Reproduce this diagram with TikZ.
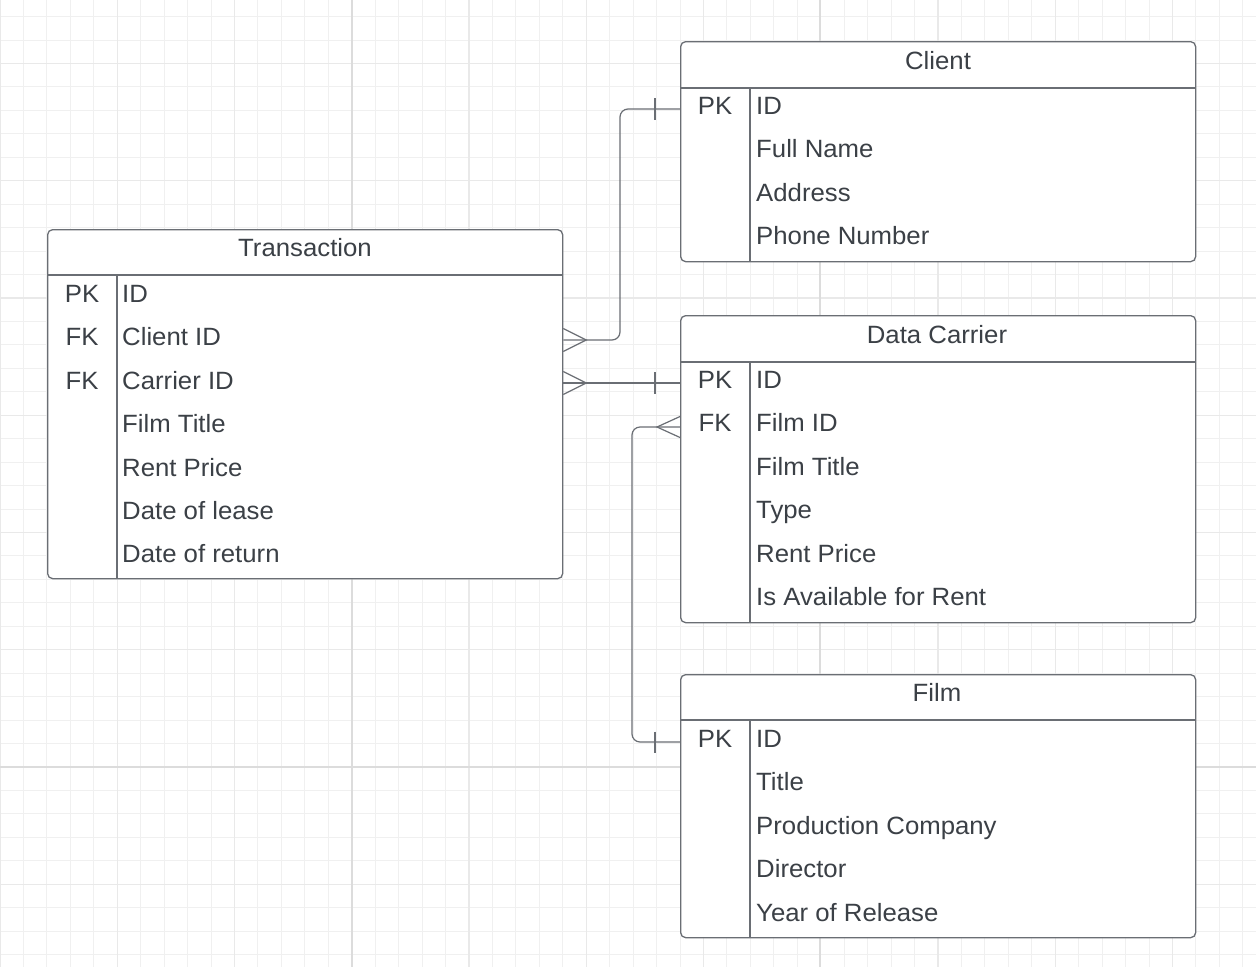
\documentclass[tikz,border=0pt]{standalone}
\usepackage{fontspec}
\setmainfont{Liberation Sans}[FakeStretch=1.03]
\definecolor{txt}{HTML}{3B4046}
\definecolor{bdr}{HTML}{6A6E74}
\definecolor{gminor}{HTML}{F0F0F0}
\definecolor{gmid}{HTML}{E9E9E9}
\definecolor{gmaj}{HTML}{DCDCDC}
\begin{document}
\begin{tikzpicture}[x=1pt,y=-1pt,
  tbl/.style={draw=bdr, line width=1.3pt, fill=white, rounded corners=5pt, minimum width=515pt, anchor=north west, inner sep=0pt},
  lbl/.style={text=txt, font=\fontsize{25}{30}\selectfont, inner sep=0pt},
  keytxt/.style={lbl, anchor=base},
  fld/.style={lbl, anchor=base west},
  ttl/.style={lbl, anchor=base},
  conn/.style={draw=bdr, line width=1.2pt},
  sepline/.style={draw=bdr, line width=1.2pt}]
\useasboundingbox[fill=white] (0,0) rectangle (1256,967);
% grid
\foreach \i in {0,...,53} \draw[gminor, line width=1pt] ({\i*23.45},0) -- ({\i*23.45},967);
\foreach \k in {-8,...,32} \draw[gminor, line width=1pt] (0,{767-\k*23.45}) -- (1256,{767-\k*23.45});
\foreach \i in {0,...,10} \draw[gmid, line width=1.2pt] ({\i*117.25},0) -- ({\i*117.25},967);
\foreach \k in {0,...,7} \draw[gmid, line width=1.2pt] (0,{63.5+\k*117.25}) -- (1256,{63.5+\k*117.25});
\foreach \x in {352,820} \draw[gmaj, line width=1.6pt] (\x,0) -- (\x,967);
\foreach \y in {767} \draw[gmaj, line width=1.6pt] (0,\y) -- (1256,\y);

% Transaction
\node[tbl, minimum height=349pt] (trans) at (47,229) {};
\draw[sepline] (trans.west |- 0,275) -- (trans.east |- 0,275);
\draw[sepline] (117,275) -- (117,578);
\node[ttl] (trans-t) at (305,256.5) {Transaction};
\node[keytxt] (trans-k1) at (82,302.5) {PK};
\node[keytxt] (trans-k2) at (82,345.9) {FK};
\node[keytxt] (trans-k3) at (82,389.3) {FK};
\node[fld] (trans-f1) at (122,302.5) {ID};
\node[fld] (trans-f2) at (122,345.9) {Client ID};
\node[fld] (trans-f3) at (122,389.3) {Carrier ID};
\node[fld] (trans-f4) at (122,432.7) {Film Title};
\node[fld] (trans-f5) at (122,476.1) {Rent Price};
\node[fld] (trans-f6) at (122,519.5) {Date of lease};
\node[fld] (trans-f7) at (122,562.9) {Date of return};

% Client
\node[tbl, minimum height=220pt] (client) at (680,41) {};
\draw[sepline] (client.west |- 0,88) -- (client.east |- 0,88);
\draw[sepline] (750,88) -- (750,261);
\node[ttl] (client-t) at (938,69.5) {Client};
\node[keytxt] (client-k1) at (715,114.5) {PK};
\node[fld] (client-f1) at (756,114.5) {ID};
\node[fld] (client-f2) at (756,157.9) {Full Name};
\node[fld] (client-f3) at (756,201.3) {Address};
\node[fld] (client-f4) at (756,244.7) {Phone Number};

% Data Carrier
\node[tbl, minimum height=307pt] (carrier) at (680,315) {};
\draw[sepline] (carrier.west |- 0,362) -- (carrier.east |- 0,362);
\draw[sepline] (750,362) -- (750,622);
\node[ttl] (carrier-t) at (937,343.5) {Data Carrier};
\node[keytxt] (carrier-k1) at (715,388.5) {PK};
\node[keytxt] (carrier-k2) at (715,431.9) {FK};
\node[fld] (carrier-f1) at (756,388.5) {ID};
\node[fld] (carrier-f2) at (756,431.9) {Film ID};
\node[fld] (carrier-f3) at (756,475.3) {Film Title};
\node[fld] (carrier-f4) at (756,518.7) {Type};
\node[fld] (carrier-f5) at (756,562.1) {Rent Price};
\node[fld] (carrier-f6) at (756,605.5) {Is Available for Rent};

% Film
\node[tbl, minimum height=263pt] (film) at (680,674) {};
\draw[sepline] (film.west |- 0,720) -- (film.east |- 0,720);
\draw[sepline] (750,720) -- (750,937);
\node[ttl] (film-t) at (937,701.5) {Film};
\node[keytxt] (film-k1) at (715,747.5) {PK};
\node[fld] (film-f1) at (756,747.5) {ID};
\node[fld] (film-f2) at (756,790.9) {Title};
\node[fld] (film-f3) at (756,834.3) {Production Company};
\node[fld] (film-f4) at (756,877.7) {Director};
\node[fld] (film-f5) at (756,921.1) {Year of Release};

% connectors
\coordinate (a1) at (trans.east |- 0,340);
\coordinate (b1) at (client.west |- 0,109);
\draw[conn, rounded corners=8pt] (a1) -| (620,109) -- (b1);
\draw[conn] (a1) ++(0,-11.5) -- ++(23,11.5) -- ++(-23,11.5);
\draw[conn] (b1) ++(-25,-11) -- ++(0,22);

\coordinate (a2) at (trans.east |- 0,383);
\coordinate (b2) at (carrier.west |- 0,383);
\draw[conn] (a2) -- (b2);
\draw[conn] (a2) ++(0,-11.5) -- ++(23,11.5) -- ++(-23,11.5);
\draw[conn] (b2) ++(-25,-11) -- ++(0,22);

\coordinate (a3) at (carrier.west |- 0,427);
\coordinate (b3) at (film.west |- 0,742);
\draw[conn, rounded corners=8pt] (a3) -- (632,427) -- (632,742) -- (b3);
\draw[conn] (a3) ++(0,-10.5) -- ++(-23,10.5) -- ++(23,10.5);
\draw[conn] (b3) ++(-25,-10.5) -- ++(0,21);
\end{tikzpicture}
\end{document}
